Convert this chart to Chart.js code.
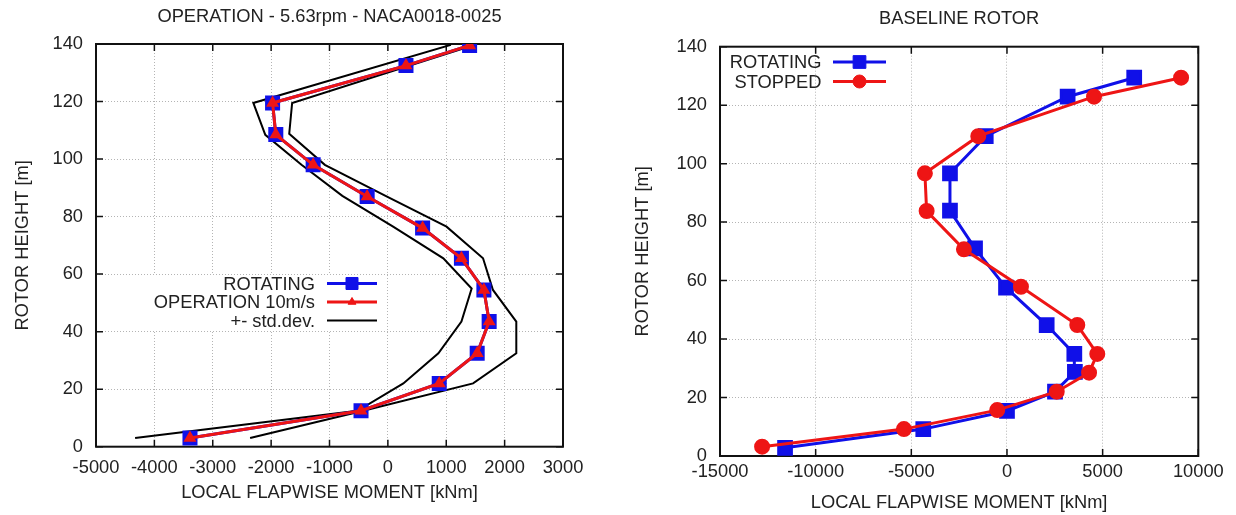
<!DOCTYPE html>
<html>
<head>
<meta charset="utf-8">
<script src="https://cdn.jsdelivr.net/npm/chart.js@4.4.0/dist/chart.umd.min.js"></script>
<style>
  html, body { margin: 0; padding: 0; background: #fff; }
  #wrap { position: relative; width: 1236px; height: 515px; }
  canvas { position: absolute; top: 0; }
  #left { left: 0; }
  #right { left: 618px; }
</style>
</head>
<body>
<div id="wrap">
  <canvas id="left" width="618" height="515"></canvas>
  <canvas id="right" width="618" height="515"></canvas>
</div>
<script>
// ---- left panel: OPERATION - 5.63rpm - NACA0018-0025 ----
const opHeights = [3, 12.5, 22, 32.5, 43.5, 54.5, 65.5, 76, 87, 98, 108.5, 119.5, 132.5, 139.5];
const opRotating = [-3390, -460, 880, 1530, 1735, 1645, 1260, 595, -355, -1280, -1920, -1975, 310, 1400];
const opOperation = [-3390, -460, 880, 1530, 1735, 1645, 1260, 595, -355, -1280, -1920, -1975, 310, 1400];

const stdMinusHeights = [3, 12.5, 22, 32.5, 43.5, 55, 65.5, 76.5, 87.2, 98, 108.4, 119.5, 139.7];
const stdMinus = [-4330, -520, 265, 865, 1260, 1435, 950, 90, -780, -1480, -2100, -2305, 1080];
const stdPlusHeights = [3, 12.5, 22, 32.5, 43.5, 54.5, 65.5, 76.5, 87.2, 98, 108.8, 119.5, 139.7];
const stdPlus = [-2360, -420, 1460, 2200, 2200, 1800, 1630, 1005, -40, -1080, -1690, -1640, 1490];

// ---- right panel: BASELINE ROTOR ----
const rotHeights = [2.8, 9.2, 15.4, 22.0, 28.8, 34.9, 44.8, 57.6, 71.0, 83.9, 96.7, 109.4, 122.9, 129.4];
const rotMoment = [-11600, -4375, 0, 2510, 3550, 3520, 2075, -50, -1670, -2980, -2980, -1110, 3170, 6650];
const stopHeights = [3.2, 9.2, 15.7, 22.0, 28.5, 34.9, 44.8, 57.9, 70.7, 83.8, 96.7, 109.4, 122.9, 129.4];
const stopMoment = [-12800, -5385, -510, 2600, 4290, 4720, 3675, 730, -2250, -4200, -4290, -1500, 4550, 9100];

const BLUE = '#1010e8';
const RED = '#ee1515';
const INK = '#222';
const FONT = 18.3;

Chart.defaults.font.family = "'Liberation Sans', Arial, sans-serif";
Chart.defaults.font.size = FONT;
Chart.defaults.color = INK;

function pts(xs, ys) {
  return xs.map((v, i) => ({ x: v, y: ys[i] }));
}

// gnuplot-like frame with inward ticks on all four sides, plus title and key
const frame = {
  id: 'frame',
  beforeDatasetsDraw(chart) {
    const { ctx, chartArea: a, scales: { x, y } } = chart;
    ctx.save();
    ctx.strokeStyle = '#111';
    ctx.lineWidth = 1.5;
    ctx.beginPath();
    x.ticks.forEach(t => {
      const px = x.getPixelForValue(t.value);
      ctx.moveTo(px, a.bottom); ctx.lineTo(px, a.bottom - 7);
      ctx.moveTo(px, a.top); ctx.lineTo(px, a.top + 7);
    });
    y.ticks.forEach(t => {
      const py = y.getPixelForValue(t.value);
      ctx.moveTo(a.left, py); ctx.lineTo(a.left + 7, py);
      ctx.moveTo(a.right, py); ctx.lineTo(a.right - 7, py);
    });
    ctx.stroke();
    ctx.lineWidth = 2;
    ctx.strokeRect(a.left, a.top, a.width, a.height);
    ctx.restore();
  },
  afterDraw(chart) {
    const o = chart.config.options.plugins.frame;
    const { ctx, chartArea: a } = chart;
    ctx.save();
    ctx.fillStyle = INK;
    ctx.font = FONT + "px 'Liberation Sans', Arial, sans-serif";
    ctx.textAlign = 'center';
    ctx.textBaseline = 'middle';
    ctx.fillText(o.title, (a.left + a.right) / 2, o.titleY);

    const k = o.key;
    if (k.box) {
      ctx.fillStyle = '#fff';
      ctx.fillRect(k.box[0], k.box[1], k.box[2], k.box[3]);
    }
    ctx.textAlign = 'right';
    k.rows.forEach((r, i) => {
      const ds = chart.data.datasets[r];
      const yy = k.y[i];
      ctx.fillStyle = INK;
      ctx.fillText(ds.label, k.textRight, yy + 1);
      ctx.strokeStyle = ds.borderColor;
      ctx.lineWidth = ds.borderWidth;
      ctx.beginPath();
      ctx.moveTo(k.x0, yy); ctx.lineTo(k.x1, yy);
      ctx.stroke();
      if (ds.pointRadius > 0) {
        ctx.fillStyle = ds.pointBackgroundColor;
        ctx.strokeStyle = ds.pointBorderColor;
        ctx.lineWidth = 1;
        Chart.helpers.drawPoint(ctx, { pointStyle: ds.pointStyle, radius: ds.pointRadius, rotation: 0, borderWidth: 1 }, (k.x0 + k.x1) / 2, yy);
      }
    });
    ctx.restore();
  }
};

function xScale(min, max, step, height, tickPad, titlePad) {
  return {
    type: 'linear', min: min, max: max,
    ticks: { stepSize: step, padding: tickPad, autoSkip: false, maxRotation: 0, callback: v => String(v) },
    grid: { color: '#b4b4b4', lineWidth: 1, drawTicks: false },
    border: { display: false, dash: [1, 2] },
    title: { display: true, text: 'LOCAL FLAPWISE MOMENT [kNm]', padding: { top: 0, bottom: titlePad } },
    afterFit(s) { s.height = height; }
  };
}
function yScale(width, titlePad) {
  return {
    type: 'linear', min: 0, max: 140,
    ticks: { stepSize: 20, padding: 13, callback: v => String(v) },
    grid: { color: '#b4b4b4', lineWidth: 1, drawTicks: false },
    border: { display: false, dash: [1, 2] },
    title: { display: true, text: 'ROTOR HEIGHT [m]', padding: { top: titlePad, bottom: 0 } },
    afterFit(s) { s.width = width; }
  };
}

new Chart(document.getElementById('left'), {
  type: 'scatter',
  data: {
    datasets: [
      { label: '+- std.dev.', data: pts(stdMinus, stdMinusHeights), showLine: true, borderColor: '#000', borderWidth: 2, pointRadius: 0, order: 2 },
      { label: '+- std.dev.', data: pts(stdPlus, stdPlusHeights), showLine: true, borderColor: '#000', borderWidth: 2, pointRadius: 0, order: 2 },
      { label: 'ROTATING', data: pts(opRotating, opHeights), showLine: true, borderColor: BLUE, borderWidth: 3, order: 1,
        pointStyle: 'rect', pointRadius: 8.5, pointBackgroundColor: BLUE, pointBorderColor: BLUE },
      { label: 'OPERATION 10m/s', data: pts(opOperation, opHeights), showLine: true, borderColor: RED, borderWidth: 3, order: 0,
        pointStyle: 'triangle', pointRadius: 4.5, pointBackgroundColor: RED, pointBorderColor: RED }
    ]
  },
  options: {
    responsive: false, animation: false,
    layout: { padding: { left: 0, right: 55, top: 44, bottom: 0 } },
    scales: {
      x: xScale(-5000, 3000, 1000, 68.3, 10, 11.5),
      y: yScale(96, 11.5)
    },
    plugins: {
      legend: { display: false }, tooltip: { enabled: false },
      frame: {
        title: 'OPERATION - 5.63rpm - NACA0018-0025', titleY: 17,
        key: { box: [146, 275, 240, 56], rows: [2, 3, 0], y: [283.5, 302, 320.5], textRight: 315, x0: 327, x1: 377 }
      }
    }
  },
  plugins: [frame]
});

new Chart(document.getElementById('right'), {
  type: 'scatter',
  data: {
    datasets: [
      { label: 'ROTATING', data: pts(rotMoment, rotHeights), showLine: true, borderColor: BLUE, borderWidth: 3, order: 1,
        pointStyle: 'rect', pointRadius: 9, pointBackgroundColor: BLUE, pointBorderColor: BLUE },
      { label: 'STOPPED', data: pts(stopMoment, stopHeights), showLine: true, borderColor: RED, borderWidth: 3, order: 0,
        pointStyle: 'circle', pointRadius: 6.5, pointBackgroundColor: RED, pointBorderColor: RED }
    ]
  },
  options: {
    responsive: false, animation: false,
    layout: { padding: { left: 0, right: 37.7, top: 46.7, bottom: 0 } },
    scales: {
      x: xScale(-15000, 10000, 5000, 59, 5, 1),
      y: yScale(102, 14)
    },
    plugins: {
      legend: { display: false }, tooltip: { enabled: false },
      frame: {
        title: 'BASELINE ROTOR', titleY: 18.5,
        key: { box: null, rows: [0, 1], y: [62, 81.5], textRight: 203.5, x0: 215, x1: 268 }
      }
    }
  },
  plugins: [frame]
});
</script>
</body>
</html>
